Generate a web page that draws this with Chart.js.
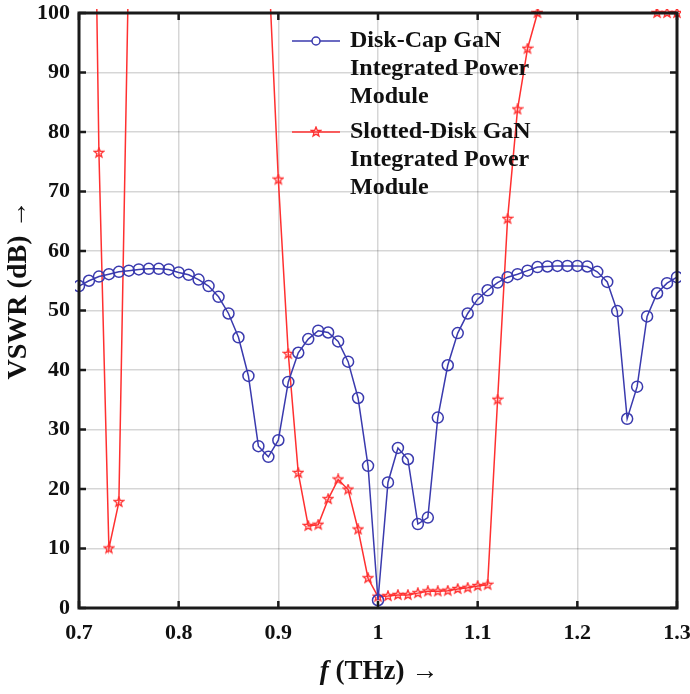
<!DOCTYPE html>
<html>
<head>
<meta charset="utf-8">
<script src="https://cdn.jsdelivr.net/npm/chart.js@4"></script>
<style>
  html, body { margin: 0; padding: 0; background: #fff; }
  #wrap { position: relative; width: 690px; height: 694px; }
</style>
</head>
<body>
<div id="wrap"><canvas id="vswr"></canvas></div>
<script>
// Frequency points (THz)
const freq = [
    0.70, 0.71, 0.72, 0.73, 0.74, 0.75, 0.76, 0.77, 0.78, 0.79,
    0.80, 0.81, 0.82, 0.83, 0.84, 0.85, 0.86, 0.87, 0.88, 0.89,
    0.90, 0.91, 0.92, 0.93, 0.94, 0.95, 0.96, 0.97, 0.98, 0.99,
    1.00, 1.01, 1.02, 1.03, 1.04, 1.05, 1.06, 1.07, 1.08, 1.09,
    1.10, 1.11, 1.12, 1.13, 1.14, 1.15, 1.16, 1.17, 1.18, 1.19,
    1.20, 1.21, 1.22, 1.23, 1.24, 1.25, 1.26, 1.27, 1.28, 1.29, 1.30
];

// Disk-Cap GaN module
const diskCap = [
    54.1, 55.0, 55.7, 56.1, 56.5, 56.7, 56.9, 57.0, 57.0, 56.9,
    56.4, 56.0, 55.2, 54.1, 52.3, 49.5, 45.5, 39.0, 27.2, 25.4,
    28.2, 38.0, 42.9, 45.2, 46.6, 46.3, 44.8, 41.4, 35.3, 23.9,
    1.3, 21.1, 26.9, 25.0, 14.1, 15.2, 32.0, 40.8, 46.2, 49.5,
    51.9, 53.4, 54.7, 55.6, 56.1, 56.7, 57.3, 57.4, 57.5, 57.5,
    57.5, 57.4, 56.5, 54.8, 49.9, 31.8, 37.2, 49.0, 52.9, 54.6, 55.6
];

// Slotted-Disk GaN module (values above 100 run off the top of the plot)
const slottedDisk = [
    260, 190, 76.5, 10.0, 17.8, 110, 150, 190, 230, 260,
    280, 290, 290, 280, 260, 230, 190, 150, 125, 109,
    72.0, 42.7, 22.7, 13.8, 14.0, 18.3, 21.6, 19.9, 13.2, 5.0,
    1.9, 2.0, 2.2, 2.2, 2.5, 2.8, 2.8, 2.9, 3.2, 3.4,
    3.7, 3.9, 35.0, 65.4, 83.8, 94.0, 100, 120, 140, 160,
    170, 175, 175, 170, 160, 140, 125, 110, 100, 100, 100
];

const xTicks = [0.7, 0.8, 0.9, 1.0, 1.1, 1.2, 1.3];
const xTickLabels = ['0.7', '0.8', '0.9', '1', '1.1', '1.2', '1.3'];
const yTicks = [0, 10, 20, 30, 40, 50, 60, 70, 80, 90, 100];

const seriesNames = [
    ['Disk-Cap GaN', 'Integrated Power', 'Module'],
    ['Slotted-Disk GaN', 'Integrated Power', 'Module']
];

const BLUE = '#3a3aae';
const RED = '#ff3030';
const SERIF = '"Liberation Serif", "DejaVu Serif", serif';

// pentagram marker like MATLAB 'p'
function makeStar(size, color) {
    const c = document.createElement('canvas');
    c.width = size;
    c.height = size;
    const g = c.getContext('2d');
    const cx = size / 2, cy = size / 2;
    const outer = size / 2 - 1, inner = outer * 0.42;
    g.beginPath();
    for (let i = 0; i < 10; i++) {
        const r = i % 2 === 0 ? outer : inner;
        const a = -Math.PI / 2 + i * Math.PI / 5;
        const px = cx + r * Math.cos(a);
        const py = cy + r * Math.sin(a);
        if (i === 0) g.moveTo(px, py); else g.lineTo(px, py);
    }
    g.closePath();
    g.strokeStyle = color;
    g.lineWidth = 1.3;
    g.stroke();
    return c;
}
const starImg = makeStar(12, RED);

// frame, inward ticks, legend and axis titles in MATLAB style
const matlabDecor = {
    id: 'matlabDecor',
    afterDatasetsDraw(chart) {
        const { ctx, chartArea: a, scales } = chart;
        const xs = scales.x, ys = scales.y;
        ctx.save();

        // box
        ctx.strokeStyle = '#1a1a1a';
        ctx.lineWidth = 3;
        ctx.strokeRect(a.left, a.top, a.right - a.left, a.bottom - a.top);

        // inward ticks on all sides
        const len = 7;
        ctx.lineWidth = 2.5;
        ctx.beginPath();
        xTicks.forEach(v => {
            const px = xs.getPixelForValue(v);
            ctx.moveTo(px, a.bottom); ctx.lineTo(px, a.bottom - len);
            ctx.moveTo(px, a.top); ctx.lineTo(px, a.top + len);
        });
        yTicks.forEach(v => {
            const py = ys.getPixelForValue(v);
            ctx.moveTo(a.left, py); ctx.lineTo(a.left + len, py);
            ctx.moveTo(a.right, py); ctx.lineTo(a.right - len, py);
        });
        ctx.stroke();

        // legend (no box, transparent)
        const lx0 = 292, lx1 = 340, tx = 350;
        const rows = [41, 132];
        const lineGap = 28;
        ctx.font = 'bold 24px ' + SERIF;
        ctx.textBaseline = 'middle';
        ctx.textAlign = 'left';
        rows.forEach((ry, i) => {
            const color = i === 0 ? BLUE : RED;
            ctx.strokeStyle = color;
            ctx.lineWidth = 1.5;
            ctx.beginPath();
            ctx.moveTo(lx0, ry); ctx.lineTo(lx1, ry);
            ctx.stroke();
            const mx = (lx0 + lx1) / 2;
            if (i === 0) {
                ctx.fillStyle = '#fff';
                ctx.beginPath();
                ctx.arc(mx, ry, 4, 0, Math.PI * 2);
                ctx.fill();
                ctx.stroke();
            } else {
                ctx.drawImage(starImg, mx - 6, ry - 6);
            }
            ctx.fillStyle = '#111';
            seriesNames[i].forEach((t, k) => {
                ctx.fillText(t, tx, ry + k * lineGap);
            });
        });

        // y axis title
        ctx.save();
        ctx.translate(19, 290);
        ctx.rotate(-Math.PI / 2);
        ctx.font = 'bold 28px ' + SERIF;
        ctx.textAlign = 'center';
        ctx.fillStyle = '#111';
        ctx.fillText('VSWR (dB) \u2192', 0, 0);
        ctx.restore();

        // x axis title with italic f
        const part1 = 'f';
        const part2 = ' (THz) \u2192';
        ctx.fillStyle = '#111';
        ctx.textAlign = 'left';
        ctx.font = 'italic bold 27px ' + SERIF;
        const w1 = ctx.measureText(part1).width;
        ctx.font = 'bold 27px ' + SERIF;
        const w2 = ctx.measureText(part2).width;
        const startX = 379 - (w1 + w2) / 2;
        ctx.font = 'italic bold 27px ' + SERIF;
        ctx.fillText(part1, startX, 672);
        ctx.font = 'bold 27px ' + SERIF;
        ctx.fillText(part2, startX + w1, 672);

        ctx.restore();
    }
};

const chartData = {
    datasets: [
        {
            label: 'Disk-Cap GaN Integrated Power Module',
            data: freq.map((f, i) => ({ x: f, y: diskCap[i] })),
            borderColor: BLUE,
            borderWidth: 1.5,
            backgroundColor: 'rgba(0,0,0,0)',
            pointStyle: 'circle',
            pointRadius: 5.5,
            pointBorderWidth: 1.5,
            pointBorderColor: BLUE,
            pointBackgroundColor: 'rgba(0,0,0,0)',
            tension: 0,
            clip: 4
        },
        {
            label: 'Slotted-Disk GaN Integrated Power Module',
            data: freq.map((f, i) => ({ x: f, y: slottedDisk[i] })),
            borderColor: RED,
            borderWidth: 1.5,
            backgroundColor: 'rgba(0,0,0,0)',
            pointStyle: starImg,
            tension: 0,
            clip: 4
        }
    ]
};

const chartOptions = {
    responsive: true,
    maintainAspectRatio: false,
    animation: false,
    layout: { padding: { top: 13, right: 13, left: 0, bottom: 0 } },
    plugins: {
        legend: { display: false },
        tooltip: { enabled: false }
    },
    scales: {
        x: {
            type: 'linear',
            min: 0.7,
            max: 1.3,
            afterBuildTicks: scale => {
                scale.ticks = xTicks.map(v => ({ value: v }));
            },
            afterFit: scale => {
                scale.height = 86;
                scale.paddingLeft = 0;
                scale.paddingRight = 0;
            },
            grid: { color: 'rgba(0,0,0,0.16)', lineWidth: 1.5, drawTicks: false },
            border: { display: false },
            ticks: {
                padding: 12,
                color: '#111',
                font: { family: SERIF, size: 22, weight: 'bold' },
                callback: (v, i) => xTickLabels[i]
            }
        },
        y: {
            min: 0,
            max: 100,
            afterBuildTicks: scale => {
                scale.ticks = yTicks.map(v => ({ value: v }));
            },
            afterFit: scale => {
                scale.width = 79;
                scale.paddingTop = 0;
                scale.paddingBottom = 0;
            },
            grid: { color: 'rgba(0,0,0,0.16)', lineWidth: 1.5, drawTicks: false },
            border: { display: false },
            ticks: {
                padding: 9,
                color: '#111',
                font: { family: SERIF, size: 22, weight: 'bold' },
                callback: v => String(v)
            }
        }
    }
};

new Chart(document.getElementById('vswr'), {
    type: 'line',
    data: chartData,
    options: chartOptions,
    plugins: [matlabDecor]
});
</script>
</body>
</html>
